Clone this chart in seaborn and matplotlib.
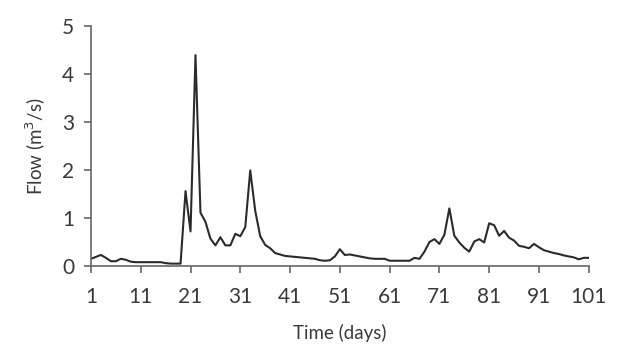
import matplotlib
matplotlib.use("Agg")
import matplotlib.pyplot as plt
import seaborn as sns
import pandas as pd

# ---- data ----
days = list(range(1, 102))
flow = [
    0.15, 0.19, 0.23, 0.17, 0.10, 0.10, 0.15, 0.13, 0.09, 0.08,   # 1-10
    0.08, 0.08, 0.08, 0.08, 0.08, 0.06, 0.05, 0.05, 0.05, 1.56,   # 11-20
    0.72, 4.39, 1.11, 0.92, 0.57, 0.43, 0.60, 0.43, 0.43, 0.67,   # 21-30
    0.62, 0.81, 1.99, 1.15, 0.62, 0.44, 0.37, 0.27, 0.24, 0.21,   # 31-40
    0.20, 0.19, 0.18, 0.17, 0.16, 0.15, 0.12, 0.11, 0.12, 0.20,   # 41-50
    0.35, 0.23, 0.24, 0.22, 0.20, 0.18, 0.16, 0.15, 0.15, 0.15,   # 51-60
    0.11, 0.11, 0.11, 0.11, 0.11, 0.17, 0.15, 0.30, 0.50, 0.56,   # 61-70
    0.46, 0.65, 1.20, 0.63, 0.49, 0.38, 0.30, 0.51, 0.56, 0.49,   # 71-80
    0.89, 0.85, 0.63, 0.73, 0.59, 0.53, 0.42, 0.40, 0.37, 0.46,   # 81-90
    0.39, 0.33, 0.30, 0.27, 0.25, 0.22, 0.20, 0.18, 0.14, 0.17,   # 91-100
    0.17,                                                         # 101
]
x_ticks = [1, 11, 21, 31, 41, 51, 61, 71, 81, 91, 101]
y_ticks = [0, 1, 2, 3, 4, 5]

df = pd.DataFrame({"day": days, "flow": flow})

sns.set_theme(style="ticks")
plt.rcParams["font.family"] = ["Lato", "DejaVu Sans"]

axis_col = "#666666"
text_col = "#3a3a3a"

fig = plt.figure(figsize=(6.23, 3.59), dpi=100)
ax = fig.add_axes([0.146, 0.259, 0.799, 0.669])

sns.lineplot(data=df, x="day", y="flow", ax=ax, color="#2b2b2b", linewidth=1.5)

ax.set_xlim(1, 101)
ax.set_ylim(0, 5)
ax.set_xticks(x_ticks)
ax.set_yticks(y_ticks)
ax.set_xlabel("Time (days)", fontsize=13.5, color=text_col, labelpad=12)
ax.set_ylabel("Flow (m$^3$/s)", fontsize=13.5, color=text_col, labelpad=10)

for side in ["top", "right"]:
    ax.spines[side].set_visible(False)
for side in ["left", "bottom"]:
    ax.spines[side].set_color(axis_col)
    ax.spines[side].set_linewidth(1.2)
ax.tick_params(axis="both", direction="out", length=5, width=1.2,
               color=axis_col, labelcolor=text_col, labelsize=15)
ax.tick_params(axis="x", pad=10)
ax.tick_params(axis="y", pad=7)

fig.savefig("out.png", dpi=100)
